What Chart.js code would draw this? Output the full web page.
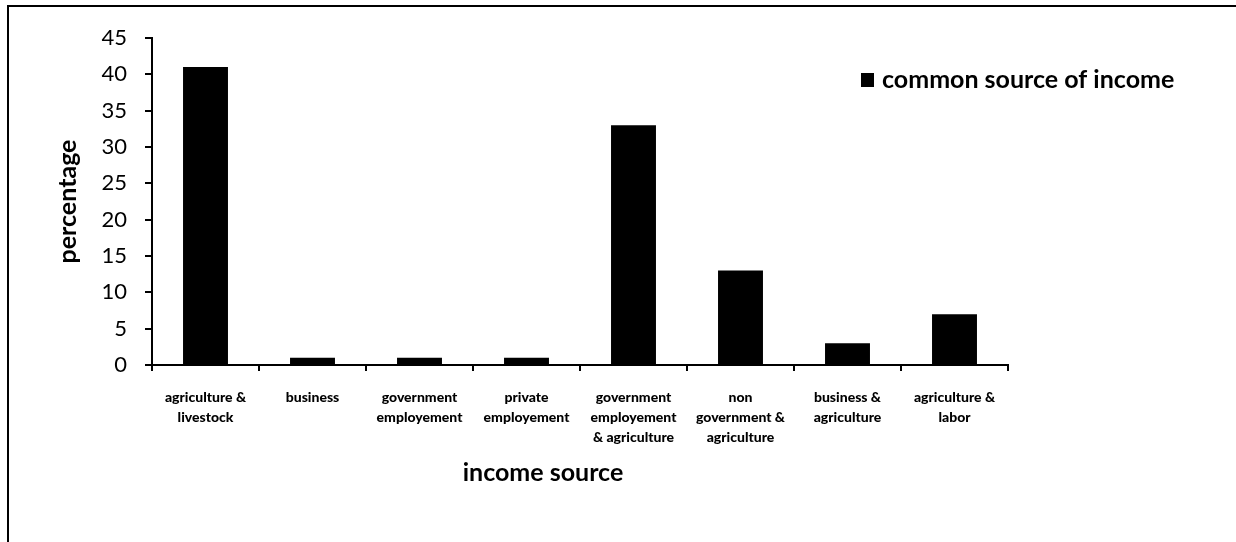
<!DOCTYPE html>
<html>
<head>
<meta charset="utf-8">
<script src="https://cdn.jsdelivr.net/npm/chart.js@4"></script>
<style>
  html, body { margin: 0; padding: 0; background: #fff; }
  #wrap { position: relative; width: 1236px; height: 542px; }
</style>
</head>
<body>
<div id="wrap"><canvas id="incomeChart" width="1236" height="542"></canvas></div>
<script>
// income sources and share of respondents (%)
const categories = [
    ['agriculture &', 'livestock'],
    ['business'],
    ['government', 'employement'],
    ['private', 'employement'],
    ['government', 'employement', '& agriculture'],
    ['non', 'government &', 'agriculture'],
    ['business &', 'agriculture'],
    ['agriculture &', 'labor']
];
const percentages = [41, 1, 1, 1, 33, 13, 3, 7];
const seriesName = 'common source of income';
const xTitle = 'income source';
const yTitle = 'percentage';
const yTicks = [0, 5, 10, 15, 20, 25, 30, 35, 40, 45];

const FONT = 'Lato, "Open Sans", sans-serif';

// frame, legend and x title drawn straight onto the canvas
const extrasPlugin = {
    id: 'extras',
    afterDraw(chart) {
        const ctx = chart.ctx;
        ctx.save();
        // outer frame (only left and top edges are inside the picture)
        ctx.strokeStyle = '#000';
        ctx.lineWidth = 2;
        ctx.beginPath();
        ctx.moveTo(8, 545);
        ctx.lineTo(8, 6);
        ctx.lineTo(1240, 6);
        ctx.stroke();

        // legend
        ctx.fillStyle = '#000';
        ctx.fillRect(861, 73, 13, 14);
        ctx.font = 'bold 25px ' + FONT;
        ctx.textBaseline = 'middle';
        ctx.textAlign = 'left';
        ctx.fillText(seriesName, 882, 80);

        // x axis title
        ctx.textAlign = 'center';
        ctx.fillText(xTitle, 543, 473);
        ctx.restore();
    }
};

const ctx = document.getElementById('incomeChart').getContext('2d');
new Chart(ctx, {
    type: 'bar',
    data: {
        labels: categories,
        datasets: [{
            label: seriesName,
            data: percentages,
            backgroundColor: '#000',
            borderWidth: 0,
            barPercentage: 0.42,
            categoryPercentage: 1
        }]
    },
    options: {
        responsive: false,
        animation: false,
        layout: { padding: { left: 0, top: 38, right: 228, bottom: 0 } },
        plugins: {
            legend: { display: false },
            tooltip: { enabled: false }
        },
        scales: {
            x: {
                grid: {
                    display: true,
                    drawOnChartArea: false,
                    drawTicks: true,
                    tickLength: 6,
                    color: '#000',
                    lineWidth: 2
                },
                border: { display: true, color: '#000', width: 2 },
                ticks: {
                    color: '#000',
                    font: { family: FONT, size: 14, weight: '900', lineHeight: 1.4 },
                    maxRotation: 0,
                    autoSkip: false,
                    padding: 17
                },
                afterFit(scale) { scale.height = 177; }
            },
            y: {
                min: 0,
                max: 45,
                afterBuildTicks(scale) { scale.ticks = yTicks.map(v => ({ value: v })); },
                grid: {
                    display: true,
                    drawOnChartArea: false,
                    drawTicks: true,
                    tickLength: 7,
                    color: '#000',
                    lineWidth: 2
                },
                border: { display: true, color: '#000', width: 2 },
                ticks: {
                    color: '#000',
                    font: { family: FONT, size: 22 },
                    padding: 18
                },
                title: {
                    display: true,
                    text: yTitle,
                    color: '#000',
                    font: { family: FONT, size: 25, weight: 'bold' },
                    padding: { top: 53, bottom: 0 }
                },
                afterFit(scale) { scale.width = 152; }
            }
        }
    },
    plugins: [extrasPlugin]
});
</script>
</body>
</html>
